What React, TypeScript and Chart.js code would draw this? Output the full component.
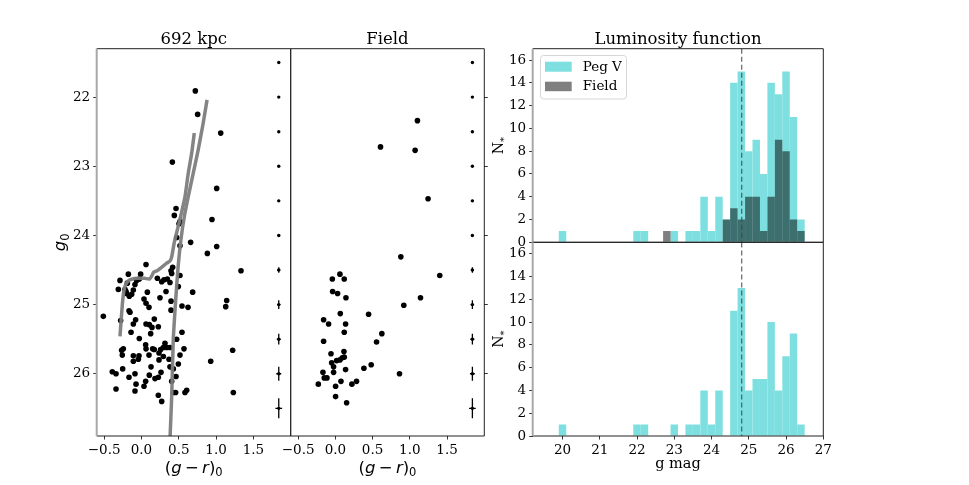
import React, { useEffect, useRef } from "react";
import { Chart, registerables } from "chart.js";
Chart.register(...registerables);

// ---------------- data ----------------
const cmdColor = [
  0.722, 0.753, 1.062, 0.414, 1.008, 0.463, 0.44, 0.516, 0.503, 0.945,
  0.472, 0.516, 0.659, 1.008, 0.883, 0.061, 1.334, 0.396, 0.418, 0.405,
  0.516, -0.176, -0.011, -0.288, -0.19, -0.065, -0.029, 0.213, 0.271, 0.302,
  0.347, 0.382, 0.494, -0.31, -0.221, -0.198, -0.109, -0.087, -0.163, -0.207,
  -0.131, 0.079, 0.329, 0.686, 0.248, 0.034, 0.061, 0.101, 0.396, 0.543,
  0.624, 0.396, 1.142, 1.129, -0.511, -0.167, -0.154, -0.279, -0.078, -0.109,
  0.061, 0.105, 0.141, 0.172, 0.226, -0.14, 0.123, 0.543, -0.029, 0.472,
  0.315, 0.056, 0.382, -0.243, -0.257, -0.266, 0.15, 0.061, 0.172, 0.257,
  0.293, 0.338, 0.57, 0.516, -0.109, -0.033, -0.042, 0.101, 0.235, 0.293,
  0.369, 0.235, -0.109, -0.252, 0.128, 0.382, 0.427, 0.494, 0.928, 1.222,
  -0.391, -0.341, -0.087, -0.167, 0.105, 0.262, 0.226, 0.181, 0.056, -0.073,
  0.034, 0.405, 0.463, -0.341, -0.087, 0.427, 0.458, 0.583, 0.606, 0.226,
  1.231, 0.271,
];
const cmdMag = [
  21.91, 22.25, 22.52, 22.94, 23.32, 23.61, 23.71, 23.8, 23.83, 23.77,
  24.03, 24.15, 24.1, 24.16, 24.26, 24.42, 24.51, 24.51, 24.46, 24.55,
  24.58, 24.56, 24.56, 24.65, 24.69, 24.65, 24.63, 24.62, 24.67, 24.64,
  24.63, 24.68, 24.74, 24.78, 24.78, 24.84, 24.79, 24.71, 24.88, 24.81,
  24.85, 24.82, 24.81, 24.82, 24.9, 24.92, 24.98, 25.04, 24.95, 25.02,
  25.04, 25.08, 24.94, 25.03, 25.17, 25.09, 25.11, 25.23, 25.22, 25.28,
  25.28, 25.29, 25.33, 25.21, 25.32, 25.4, 25.42, 25.4, 25.49, 25.5,
  25.56, 25.58, 25.62, 25.64, 25.73, 25.66, 25.64, 25.64, 25.65, 25.65,
  25.62, 25.62, 25.64, 25.73, 25.74, 25.74, 25.79, 25.73, 25.7, 25.75,
  25.79, 25.8, 25.82, 25.93, 25.9, 25.9, 25.93, 25.86, 25.82, 25.66,
  25.97, 26.0, 26.0, 26.05, 26.02, 25.98, 26.05, 26.07, 26.11, 26.15,
  26.18, 26.11, 26.04, 26.22, 26.25, 26.27, 26.27, 26.27, 26.24, 26.31,
  26.27, 26.4,
];
const fieldColor = [
  1.102, 0.606, 1.071, 1.245,
  0.879, 1.402, 0.061, -0.041, 0.119, -0.037, 0.03, 0.142, 1.143, 0.919,
  0.066, 0.446, -0.158, -0.091, 0.137, 0.119, 0.624, -0.158, 0.553, -0.059,
  0.115, -0.05, 0.017, 0.061, 0.093, 0.119, -0.024, 0.137, 0.383, 0.481,
  0.861, -0.167, -0.024, -0.149, -0.113, -0.229, 0.003, 0.075, 0.222, 0.284,
  0.003, 0.151,
];
const fieldMag = [
  22.34, 22.72, 22.77, 23.47,
  24.31, 24.58, 24.56, 24.63, 24.63, 24.81, 24.84, 24.9, 24.9, 25.01,
  25.13, 25.14, 25.22, 25.28, 25.28, 25.4, 25.42, 25.53, 25.54, 25.71,
  25.68, 25.84, 25.81, 25.8, 25.77, 25.76, 25.9, 25.94, 25.92, 25.87,
  26.0, 25.98, 25.98, 26.06, 26.06, 26.15, 26.18, 26.11, 26.15, 26.11,
  26.33, 26.42,
];
// isochrones
const iso1Color = [0.382, 0.405, 0.426, 0.462, 0.493, 0.53, 0.574, 0.627, 0.694, 0.761, 0.828, 0.879];
const iso1Mag = [26.95, 26.33, 25.51, 24.88, 24.43, 24.05, 23.73, 23.44, 23.1, 22.76, 22.37, 22.04];
const iso2Color = [-0.288, -0.272, -0.255, -0.238, -0.215, -0.18, -0.12, -0.05, 0.04, 0.11, 0.14, 0.165, 0.21, 0.271, 0.338, 0.382, 0.405, 0.44, 0.49, 0.53, 0.583, 0.627, 0.673, 0.708];
const iso2Mag = [25.46, 25.22, 24.98, 24.82, 24.72, 24.66, 24.63, 24.62, 24.62, 24.63, 24.58, 24.53, 24.51, 24.46, 24.4, 24.37, 24.31, 24.1, 23.88, 23.7, 23.44, 23.1, 22.81, 22.52];
// photometric errors
const errColorPos = 1.84;
const errMag = [21.5, 22, 22.5, 23, 23.5, 24, 24.5, 25, 25.5, 26, 26.5];
const errSigMag = [0.01, 0.01, 0.01, 0.012, 0.015, 0.02, 0.04, 0.063, 0.077, 0.1, 0.145];
const errSigColor = [0.01, 0.01, 0.01, 0.012, 0.014, 0.017, 0.02, 0.022, 0.027, 0.033, 0.045];
const cmdXTicks = [-0.5, 0, 0.5, 1, 1.5];
const cmdYTicks = [22, 23, 24, 25, 26];

// luminosity function (bin width 0.2 mag)
const binCenters = [
  20.0, 20.2, 20.4, 20.6, 20.8, 21.0, 21.2, 21.4, 21.6, 21.8, 22.0, 22.2, 22.4,
  22.6, 22.8, 23.0, 23.2, 23.4, 23.6, 23.8, 24.0, 24.2, 24.4, 24.6, 24.8, 25.0,
  25.2, 25.4, 25.6, 25.8, 26.0, 26.2, 26.4,
];
const pegCounts = [1, 0, 0, 0, 0, 0, 0, 0, 0, 0, 1, 1, 0, 0, 0, 1, 0, 1, 1, 4, 1, 4, 2, 14, 15, 8, 9, 6, 14, 13, 15, 11, 2];
const fieldCounts = [0, 0, 0, 0, 0, 0, 0, 0, 0, 0, 0, 0, 0, 0, 1, 0, 0, 0, 0, 0, 0, 0, 2, 3, 2, 4, 4, 1, 4, 9, 8, 2, 1];
const subCounts = [1, 0, 0, 0, 0, 0, 0, 0, 0, 0, 1, 1, 0, 0, 0, 1, 0, 1, 1, 4, 1, 4, 0, 11, 13, 4, 5, 5, 10, 4, 7, 9, 1];
const lfXTicks = [20, 21, 22, 23, 24, 25, 26, 27];
const lfYTicks = [0, 2, 4, 6, 8, 10, 12, 14, 16];
const trgbMag = 24.81;

// ---------------- layout / style ----------------
const W = 969;
const H = 485;
type Rect = { l: number; t: number; r: number; b: number };
const R1: Rect = { l: 96.7, t: 48.7, r: 290.7, b: 436 };
const R2: Rect = { l: 290.7, t: 48.7, r: 484.3, b: 436 };
const R3: Rect = { l: 532.7, t: 48.7, r: 823.3, b: 242.3 };
const R4: Rect = { l: 532.7, t: 242.3, r: 823.3, b: 436 };
const SERIF = "'DejaVu Serif', serif";
const SANS = "'DejaVu Sans', sans-serif";
const TICK_FONT = { family: SERIF, size: 13.5 };
const PEG_COLOR = "#7ddfdf";
const FIELD_COLOR = "rgba(0,0,0,0.5)";
const AX_W = 40; // reserved width for a vertical axis box
const AX_H = 28; // reserved height for a horizontal axis box

// padding so that the chart area equals the rect, given axis boxes
function pad(r: Rect, yPos: "left" | "right", xShown: boolean) {
  return {
    left: r.l - (yPos === "left" ? AX_W : 0),
    right: W - r.r - (yPos === "right" ? AX_W : 0),
    top: r.t,
    bottom: H - r.b - (xShown ? AX_H : 0),
  };
}

function axis(o: any) {
  const shown = o.display === undefined ? true : o.display;
  return {
    type: "linear",
    min: o.min,
    max: o.max,
    reverse: !!o.reverse,
    position: o.position,
    display: shown,
    offset: false,
    afterFit: (s: any) => {
      if (s.isHorizontal()) s.height = shown ? AX_H : 0;
      else s.width = shown ? AX_W : 0;
    },
    afterBuildTicks: (s: any) => {
      s.ticks = o.ticks.map((v: number) => ({ value: v }));
    },
    ticks: {
      font: TICK_FONT,
      color: "#000",
      padding: 3,
      autoSkip: false,
      maxRotation: 0,
      minRotation: 0,
      callback: o.fmt,
    },
    grid: {
      display: true,
      drawOnChartArea: false,
      drawTicks: true,
      tickLength: 3.5,
      tickWidth: 0.8,
      tickColor: "#000",
      offset: false,
    },
    border: { display: false },
  };
}

const fmtCmdX = (v: number) => (v < 0 ? "\u2212" : "") + Math.abs(v).toFixed(1);
const fmtInt = (v: number) => String(v);
const fmtNone = () => "";

type Run = { t: string; font: string; dy?: number };
function drawRuns(ctx: CanvasRenderingContext2D, runs: Run[], x: number, y: number) {
  let total = 0;
  for (const r of runs) {
    ctx.font = r.font;
    total += ctx.measureText(r.t).width;
  }
  let cx = x - total / 2;
  ctx.textAlign = "left";
  ctx.textBaseline = "alphabetic";
  for (const r of runs) {
    ctx.font = r.font;
    ctx.fillText(r.t, cx, y + (r.dy || 0));
    cx += ctx.measureText(r.t).width;
  }
}

const grMinusR: Run[] = [
  { t: "(", font: `16.5px ${SANS}` },
  { t: "g", font: `italic 16.5px ${SANS}` },
  { t: "\u2009\u2212\u2009", font: `16.5px ${SANS}` },
  { t: "r", font: `italic 16.5px ${SANS}` },
  { t: ")", font: `16.5px ${SANS}` },
  { t: "0", font: `11.5px ${SANS}`, dy: 3.5 },
];

function framePlugin(r: Rect, leftGray: boolean) {
  return {
    id: "frame",
    afterDraw(chart: any) {
      const ctx = chart.ctx as CanvasRenderingContext2D;
      ctx.save();
      ctx.strokeStyle = "#222";
      ctx.lineWidth = 1;
      ctx.beginPath();
      ctx.moveTo(r.l, r.t);
      ctx.lineTo(r.r, r.t);
      ctx.lineTo(r.r, r.b);
      ctx.lineTo(r.l, r.b);
      if (!leftGray) ctx.lineTo(r.l, r.t);
      ctx.stroke();
      if (leftGray) {
        ctx.strokeStyle = "#a8a8a8";
        ctx.lineWidth = 2;
        ctx.beginPath();
        ctx.moveTo(r.l, r.t);
        ctx.lineTo(r.l, r.b);
        ctx.stroke();
      }
      ctx.restore();
    },
  };
}

function textPlugin(draw: (ctx: CanvasRenderingContext2D) => void) {
  return {
    id: "texts",
    afterDraw(chart: any) {
      const ctx = chart.ctx as CanvasRenderingContext2D;
      ctx.save();
      ctx.fillStyle = "#000";
      draw(ctx);
      ctx.restore();
    },
  };
}

const errorBarPlugin = {
  id: "errbars",
  afterDatasetsDraw(chart: any) {
    const ctx = chart.ctx as CanvasRenderingContext2D;
    const xs = chart.scales.x;
    const ys = chart.scales.y;
    ctx.save();
    ctx.strokeStyle = "#000";
    ctx.lineWidth = 1.3;
    errMag.forEach((m, i) => {
      const x = xs.getPixelForValue(errColorPos);
      const y = ys.getPixelForValue(m);
      const y1 = ys.getPixelForValue(m - errSigMag[i]);
      const y2 = ys.getPixelForValue(m + errSigMag[i]);
      const x1 = xs.getPixelForValue(errColorPos - errSigColor[i]);
      const x2 = xs.getPixelForValue(errColorPos + errSigColor[i]);
      ctx.beginPath();
      ctx.moveTo(x, y1);
      ctx.lineTo(x, y2);
      ctx.moveTo(x1, y);
      ctx.lineTo(x2, y);
      ctx.stroke();
      ctx.beginPath();
      ctx.fillStyle = "#000";
      ctx.arc(x, y, 1.7, 0, Math.PI * 2);
      ctx.fill();
    });
    ctx.restore();
  },
};

function cmdConfig(which: 1 | 2): any {
  const r = which === 1 ? R1 : R2;
  const pts =
    which === 1
      ? cmdColor.map((c, i) => ({ x: c, y: cmdMag[i] }))
      : fieldColor.map((c, i) => ({ x: c, y: fieldMag[i] }));
  const datasets: any[] = [
    {
      type: "scatter",
      data: pts,
      pointRadius: 2.8,
      pointBackgroundColor: "#000",
      pointBorderWidth: 0,
      order: 2,
    },
  ];
  if (which === 1) {
    const iso = (xs: number[], ys: number[]) => ({
      type: "scatter",
      data: xs.map((c, i) => ({ x: c, y: ys[i] })),
      showLine: true,
      pointRadius: 0,
      borderColor: "rgba(125,125,125,0.95)",
      borderWidth: 3.5,
      tension: 0.2,
      borderJoinStyle: "round",
      order: 1,
    });
    datasets.push(iso(iso1Color, iso1Mag), iso(iso2Color, iso2Mag));
  }
  const title = which === 1 ? "692 kpc" : "Field";
  const cx = (r.l + r.r) / 2;
  const yPos = which === 1 ? "left" : "right";
  return {
    type: "scatter",
    data: { datasets },
    options: {
      responsive: false,
      animation: false,
      events: [],
      layout: { padding: pad(r, yPos, true) },
      plugins: { legend: { display: false }, tooltip: { enabled: false }, title: { display: false } },
      scales: {
        x: axis({ min: -0.6, max: 2.0, ticks: cmdXTicks, fmt: fmtCmdX, position: "bottom" }),
        y: axis({
          min: 21.3,
          max: 26.9,
          reverse: true,
          ticks: cmdYTicks,
          fmt: which === 1 ? fmtInt : fmtNone,
          position: yPos,
        }),
      },
    },
    plugins: [
      errorBarPlugin,
      framePlugin(r, which === 1),
      textPlugin((ctx) => {
        ctx.font = `16.5px ${SERIF}`;
        ctx.textAlign = "center";
        ctx.textBaseline = "alphabetic";
        ctx.fillText(title, cx, 44);
        drawRuns(ctx, grMinusR, cx, 472.5);
        if (which === 1) {
          ctx.save();
          ctx.translate(65, (r.t + r.b) / 2);
          ctx.rotate(-Math.PI / 2);
          drawRuns(
            ctx,
            [
              { t: "g", font: `italic 16.5px ${SANS}` },
              { t: "0", font: `11.5px ${SANS}`, dy: 3.5 },
            ],
            0,
            0
          );
          ctx.restore();
        }
      }),
    ],
  };
}

function lfConfig(top: boolean): any {
  const r = top ? R3 : R4;
  const datasets: any[] = [];
  const bars = (counts: number[], color: string, order: number) => ({
    type: "bar",
    data: binCenters.map((x, i) => ({ x, y: counts[i] })),
    backgroundColor: color,
    borderWidth: 0,
    barPercentage: 1,
    categoryPercentage: 1,
    grouped: false,
    inflateAmount: 0,
    order,
  });
  if (top) {
    datasets.push(bars(pegCounts, PEG_COLOR, 3));
    datasets.push(bars(fieldCounts, FIELD_COLOR, 2));
  } else {
    datasets.push(bars(subCounts, PEG_COLOR, 3));
  }
  datasets.push({
    type: "line",
    data: [
      { x: trgbMag, y: -1 },
      { x: trgbMag, y: 18 },
    ],
    borderColor: "rgba(70,70,70,0.85)",
    borderWidth: 1.2,
    borderDash: [5, 3],
    pointRadius: 0,
    order: 0,
  });
  const cx = (r.l + r.r) / 2;
  const cy = (r.t + r.b) / 2;
  return {
    type: "bar",
    data: { datasets },
    options: {
      responsive: false,
      animation: false,
      events: [],
      layout: { padding: pad(r, "left", !top) },
      plugins: { legend: { display: false }, tooltip: { enabled: false }, title: { display: false } },
      scales: {
        x: axis({ min: 19.2, max: 27, ticks: lfXTicks, fmt: fmtInt, position: "bottom", display: !top }),
        y: axis({ min: 0, max: 17, ticks: lfYTicks, fmt: fmtInt, position: "left" }),
      },
    },
    plugins: [
      framePlugin(r, true),
      textPlugin((ctx) => {
        ctx.textAlign = "center";
        ctx.textBaseline = "alphabetic";
        if (top) {
          ctx.font = `16.5px ${SERIF}`;
          ctx.fillText("Luminosity function", cx, 43.5);
          // legend
          ctx.save();
          ctx.beginPath();
          const lx = 540.5, ly = 55.5, lw = 86, lh = 43.5, rr = 3;
          ctx.moveTo(lx + rr, ly);
          ctx.arcTo(lx + lw, ly, lx + lw, ly + lh, rr);
          ctx.arcTo(lx + lw, ly + lh, lx, ly + lh, rr);
          ctx.arcTo(lx, ly + lh, lx, ly, rr);
          ctx.arcTo(lx, ly, lx + lw, ly, rr);
          ctx.closePath();
          ctx.fillStyle = "rgba(255,255,255,0.8)";
          ctx.fill();
          ctx.strokeStyle = "#d6d6d6";
          ctx.lineWidth = 1;
          ctx.stroke();
          ctx.fillStyle = PEG_COLOR;
          ctx.fillRect(545, 61.7, 26.7, 10);
          ctx.fillStyle = FIELD_COLOR;
          ctx.fillRect(545, 81.7, 26.7, 9.5);
          ctx.fillStyle = "#000";
          ctx.font = `13.5px ${SERIF}`;
          ctx.textAlign = "left";
          ctx.textBaseline = "middle";
          ctx.fillText("Peg V", 582.7, 67);
          ctx.fillText("Field", 582.7, 86.7);
          ctx.restore();
        } else {
          ctx.font = `14.5px ${SERIF}`;
          ctx.fillText("g mag", cx, 468);
        }
        // N* label
        ctx.save();
        ctx.translate(502.5, cy);
        ctx.rotate(-Math.PI / 2);
        drawRuns(
          ctx,
          [
            { t: "N", font: `14px ${SERIF}` },
            { t: "*", font: `10px ${SERIF}`, dy: 4 },
          ],
          0,
          0
        );
        ctx.restore();
      }),
    ],
  };
}

function ChartCanvas({ make }: { make: () => any }) {
  const ref = useRef<HTMLCanvasElement | null>(null);
  useEffect(() => {
    if (!ref.current) return;
    const chart = new Chart(ref.current, make());
    return () => chart.destroy();
  }, [make]);
  return (
    <canvas
      ref={ref}
      width={W}
      height={H}
      style={{ position: "absolute", left: 0, top: 0, width: W, height: H }}
    />
  );
}

const makers = [() => cmdConfig(1), () => cmdConfig(2), () => lfConfig(true), () => lfConfig(false)];

export default function App() {
  return (
    <div
      style={{
        position: "fixed",
        left: 0,
        top: 0,
        width: W,
        height: H,
        background: "#fff",
        overflow: "hidden",
      }}
    >
      {makers.map((m, i) => (
        <ChartCanvas key={i} make={m} />
      ))}
    </div>
  );
}
